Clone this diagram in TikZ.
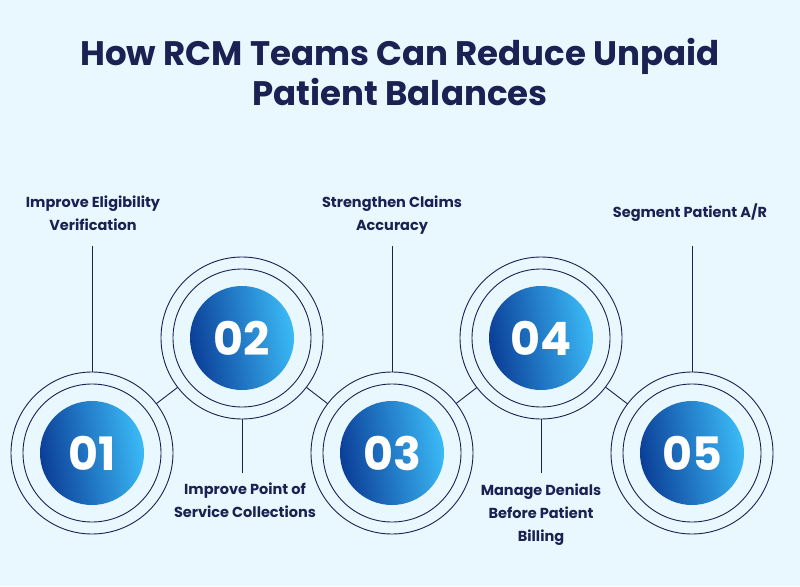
\documentclass[tikz,border=0pt]{standalone}
\usepackage{fontspec}
\setmainfont{Poppins}
\usetikzlibrary{calc}
\definecolor{bg}{HTML}{E9F8FE}
\definecolor{navy}{HTML}{1B2152}
\definecolor{gA}{HTML}{0B3E98}
\definecolor{gB}{HTML}{3BBAF6}
\begin{document}
\begin{tikzpicture}[x=1pt,y=-1pt,
  ring/.style={draw=navy,line width=0.9pt},
  conn/.style={draw=navy,line width=0.9pt},
  num/.style={text=white,font=\bfseries\fontsize{46}{46}\selectfont},
  lab/.style={text=navy,align=center,font=\bfseries\fontsize{14.5}{23}\selectfont},
  ttl/.style={text=navy,align=center,font=\bfseries\fontsize{34}{40}\selectfont}]
\fill[bg] (0,0) rectangle (800,586);
\useasboundingbox (0,0) rectangle (800,586);
\node[ttl] (title) at (400,72) {How RCM Teams Can Reduce Unpaid\\Patient Balances};
\foreach \n/\x/\y in {01/92/453,02/242/338,03/392/453,04/541/338,05/692/453}{
  \coordinate (c\n) at (\x,\y);
  \draw[ring] (c\n) circle (81);
  \draw[ring] (c\n) circle (69);
  \shade[left color=gA,right color=gB,shading angle=100] (c\n) circle (52);
  \node[num] (n\n) at (c\n) {\n};
}
\foreach \a/\b in {01/02,02/03,03/04,04/05}{
  \draw[conn] ($(c\a)!81pt!(c\b)$) -- ($(c\b)!81pt!(c\a)$);
}
\node[lab] (l1) at (93,213) {Improve Eligibility\\Verification};
\node[lab] (l2) at (245,500) {Improve Point of\\Service Collections};
\node[lab] (l3) at (392,215) {Strengthen Claims\\Accuracy};
\node[lab] (l4) at (541,515) {Manage Denials\\Before Patient\\Billing};
\node[lab] (l5) at (690,213) {Segment Patient A/R};
\coordinate (t1) at (92,246); \coordinate (t3) at (392,246); \coordinate (t5) at (692,246);
\coordinate (b2) at (242,473); \coordinate (b4) at (541,473);
\draw[conn] (t1) -- ($(c01)+(0,-81)$);
\draw[conn] (t3) -- ($(c03)+(0,-81)$);
\draw[conn] (t5) -- ($(c05)+(0,-81)$);
\draw[conn] (b2) -- ($(c02)+(0,81)$);
\draw[conn] (b4) -- ($(c04)+(0,81)$);
\end{tikzpicture}
\end{document}
